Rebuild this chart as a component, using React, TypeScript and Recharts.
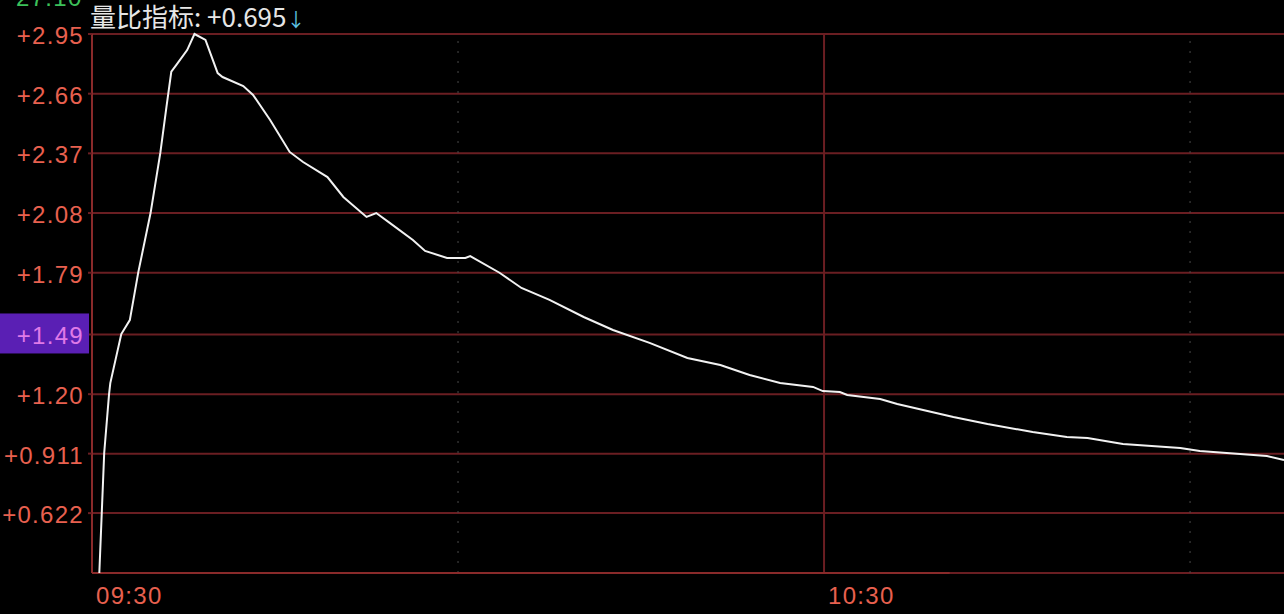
import React from 'react';
import {
  LineChart,
  Line,
  XAxis,
  YAxis,
  CartesianGrid,
  ReferenceLine,
} from 'recharts';

// minutes after 09:30
const minutes = [
  0.6, 0.8, 1.0, 1.4, 1.5, 2.4, 3.1, 3.8, 4.8, 5.6, 6.1, 6.5, 6.9, 7.8, 8.4,
  9.3, 10.3, 10.7, 12.4, 13.2, 14.6, 16.2, 17.3, 19.3, 20.6, 22.5, 23.3, 24.4,
  26.3, 27.3, 29.1, 30.6, 31.0, 33.4, 35.2, 37.5, 40.3, 42.7, 45.7, 48.8, 51.5,
  53.9, 56.4, 59.1, 59.9, 61.3, 61.9, 64.6, 66.0, 70.6, 73.4, 77.1, 79.9, 81.6,
  84.5, 89.2, 90.8, 96.3, 97.7,
];

// 量比 values
const ratio = [
  0.331, 0.623, 0.914, 1.201, 1.254, 1.492, 1.56, 1.794, 2.08, 2.372, 2.595,
  2.767, 2.799, 2.872, 2.95, 2.921, 2.76, 2.741, 2.697, 2.654, 2.532, 2.377,
  2.328, 2.255, 2.158, 2.061, 2.08, 2.032, 1.949, 1.896, 1.862, 1.862, 1.871,
  1.79, 1.716, 1.658, 1.575, 1.512, 1.449, 1.376, 1.342, 1.293, 1.254, 1.235,
  1.215, 1.21, 1.196, 1.176, 1.152, 1.089, 1.055, 1.016, 0.992, 0.987, 0.958,
  0.938, 0.924, 0.899, 0.88,
];

const yTicks = [0.622, 0.911, 1.2, 1.49, 1.79, 2.08, 2.37, 2.66, 2.95];
const yTickLabels = ['+0.622', '+0.911', '+1.20', '+1.49', '+1.79', '+2.08', '+2.37', '+2.66', '+2.95'];
const xTicks = [0, 60];
const xTickLabels = ['09:30', '10:30'];

const data = minutes.map((m, i) => ({ m, v: ratio[i] }));

const RED = '#e8604f';
const GRID = '#6a1e22';
const FONT = '"Liberation Sans", Arial, sans-serif';

const YTick = ({ x, y, payload }: any) => {
  const i = yTicks.indexOf(payload.value);
  const label = i >= 0 ? yTickLabels[i] : String(payload.value);
  const hot = payload.value === 1.49;
  return (
    <g>
      {hot && <rect x={0} y={y - 21} width={89} height={40} fill="#5a1fb4" />}
      <text
        x={x - 2}
        y={y + 10}
        textAnchor="end"
        fill={hot ? '#e07ae8' : RED}
        fontSize={24}
        letterSpacing={1.3}
        fontFamily={FONT}
      >
        {label}
      </text>
    </g>
  );
};

const XTick = ({ x, y, payload }: any) => {
  const i = xTicks.indexOf(payload.value);
  return (
    <text x={x + 4} y={y + 23} textAnchor="start" fill={RED} fontSize={24} letterSpacing={1.3} fontFamily={FONT}>
      {i >= 0 ? xTickLabels[i] : ''}
    </text>
  );
};

export default function App() {
  return (
    <div style={{ position: 'absolute', left: 0, top: 0, width: 1284, height: 614, background: '#000', overflow: 'hidden' }}>
      <div style={{ position: 'absolute', left: 16, top: -16, color: '#3cc05a', fontSize: 24, fontFamily: FONT, letterSpacing: 1.3 }}>
        27.10
      </div>
      <div style={{ position: 'absolute', left: 90, top: 1, color: '#e6e6e6', fontSize: 26, lineHeight: '30px', fontFamily: '"Noto Sans CJK SC", "Liberation Sans", sans-serif', whiteSpace: 'nowrap', zIndex: 2 }}>
        量比指标: +0.695<span style={{ color: '#5fc4e6', fontSize: 19 }}>↓</span>
      </div>
      <LineChart width={1284} height={614} data={data} margin={{ top: 34, right: 0, bottom: 0, left: 0 }}>
        <CartesianGrid horizontal vertical={false} stroke={GRID} strokeWidth={2} />
        <XAxis
          dataKey="m"
          type="number"
          domain={[0, 97.7]}
          ticks={xTicks}
          tick={<XTick />}
          tickLine={false}
          axisLine={false}
          height={41}
          interval={0}
        />
        <YAxis
          type="number"
          domain={[0.331, 2.95]}
          ticks={yTicks}
          tick={<YTick />}
          tickLine={{ stroke: GRID, strokeWidth: 2 }}
          tickSize={4}
          axisLine={{ stroke: '#8a2a2a', strokeWidth: 2 }}
          width={92}
          interval={0}
        />
        <ReferenceLine x={30} stroke="#4a4a4a" strokeDasharray="2 8" />
        <ReferenceLine x={60} stroke={GRID} strokeWidth={2} />
        <ReferenceLine x={90} stroke="#4a4a4a" strokeDasharray="2 8" />
        <ReferenceLine
          segment={[{ x: 0, y: 0.331 }, { x: 70.3, y: 0.331 }]}
          stroke="#8a2a2a"
          strokeWidth={2}
          ifOverflow="visible"
        />
        <Line
          type="linear"
          dataKey="v"
          stroke="#f2f2f2"
          strokeWidth={2}
          dot={false}
          isAnimationActive={false}
        />
      </LineChart>
    </div>
  );
}
